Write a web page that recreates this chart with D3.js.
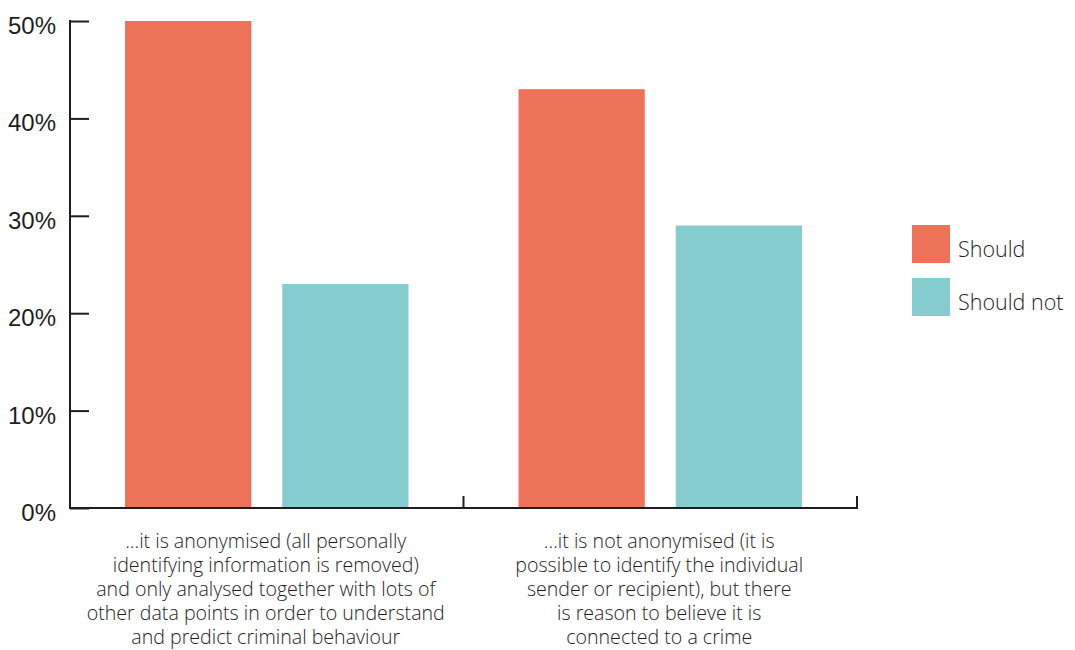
<!DOCTYPE html>
<html>
<head>
<meta charset="utf-8">
<script src="https://cdn.jsdelivr.net/npm/d3@7"></script>
<style>
  html, body { margin: 0; padding: 0; background: #fff; }
  svg { display: block; font-family: "Open Sans", Lato, sans-serif; }
</style>
</head>
<body>
<svg id="chart" width="1075" height="650"></svg>
<script>
// Survey conditions (x categories), each split into two answers
const categories = [
  ["...it is anonymised (all personally", "identifying information is removed)", "and only analysed together with lots of", "other data points in order to understand", "and predict criminal behaviour"],
  ["...it is not anonymised (it is", "possible to identify the individual", "sender or recipient), but there", "is reason to believe it is", "connected to a crime"]
];
const seriesNames = ["Should", "Should not"];
const shouldValues = [50, 43];
const shouldNotValues = [23, 29];
const yTicks = [0, 10, 20, 30, 40, 50];
const colors = ["#EE7257", "#86CDD0"];

const svg = d3.select("#chart");
const plotLeft = 70, plotRight = 857, plotTop = 21, plotBottom = 508;
const ink = "#1e1e1e";

const x0 = d3.scaleBand().domain(d3.range(categories.length)).range([plotLeft, plotRight]).paddingInner(0).paddingOuter(0);
const x1 = d3.scaleBand().domain(d3.range(seriesNames.length)).range([0, x0.bandwidth()])
  .paddingInner(0.197).paddingOuter(0.35);
const y = d3.scaleLinear().domain([0, 50]).range([plotBottom, plotTop]);

const series = [shouldValues, shouldNotValues];

// Bars
const g = svg.append("g");
categories.forEach((c, i) => {
  series.forEach((vals, s) => {
    g.append("rect")
      .attr("x", x0(i) + x1(s))
      .attr("y", y(vals[i]))
      .attr("width", x1.bandwidth())
      .attr("height", y(0) - y(vals[i]))
      .attr("fill", colors[s]);
  });
});

// Y axis
const yAxis = d3.axisRight(y).tickValues(yTicks).tickSize(19).tickFormat(d => d + "%");
const ya = svg.append("g").attr("transform", `translate(${plotLeft},0)`).call(yAxis);
ya.select(".domain").remove();
ya.selectAll(".tick line").attr("stroke", ink).attr("stroke-width", 2);
ya.selectAll(".tick text")
  .attr("x", -14).attr("text-anchor", "end").attr("dy", "0.52em")
  .attr("fill", ink).style("font-size", "24px").style("font-weight", 300);
svg.append("line").attr("x1", plotLeft).attr("x2", plotLeft).attr("y1", plotTop - 1).attr("y2", plotBottom + 1)
  .attr("stroke", ink).attr("stroke-width", 2);

// X axis with boundary ticks between groups
svg.append("line").attr("x1", plotLeft).attr("x2", plotRight + 1).attr("y1", plotBottom).attr("y2", plotBottom)
  .attr("stroke", ink).attr("stroke-width", 2);
const bounds = d3.range(1, categories.length + 1).map(i => x0(i - 1) + x0.bandwidth());
svg.selectAll(".bt").data(bounds).join("line")
  .attr("x1", d => d).attr("x2", d => d).attr("y1", plotBottom).attr("y2", plotBottom - 12)
  .attr("stroke", ink).attr("stroke-width", 2);

// Category labels
categories.forEach((lines, i) => {
  const t = svg.append("text")
    .attr("text-anchor", "middle")
    .attr("fill", ink)
    .style("font-size", "19.6px").style("font-weight", 300);
  lines.forEach((ln, k) => {
    t.append("tspan").attr("x", x0(i) + x0.bandwidth() / 2 - 1)
      .attr("y", 548 + k * 24).text(ln);
  });
});

// Legend
const lg = svg.append("g").attr("transform", "translate(912,225)");
seriesNames.forEach((n, s) => {
  lg.append("rect").attr("x", 0).attr("y", s * 53).attr("width", 38).attr("height", 38).attr("fill", colors[s]);
  lg.append("text").attr("x", 46).attr("y", s * 53 + 31.5)
    .attr("fill", ink).style("font-size", "21.5px").style("font-weight", 300).text(n);
});
</script>
</body>
</html>
